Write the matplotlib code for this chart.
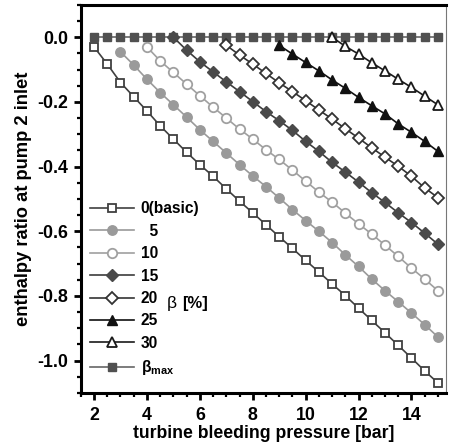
import matplotlib
matplotlib.use('Agg')
import matplotlib.pyplot as plt
from matplotlib.ticker import MultipleLocator

plt.rcParams['font.family'] = ['Liberation Sans', 'DejaVu Sans']
plt.rcParams['font.weight'] = 'bold'
plt.rcParams['axes.unicode_minus'] = False
plt.rcParams['mathtext.fontset'] = 'custom'
plt.rcParams['mathtext.rm'] = 'Liberation Sans'
plt.rcParams['mathtext.it'] = 'Liberation Sans:italic'
plt.rcParams['mathtext.bf'] = 'Liberation Sans:bold'

# turbine bleeding pressure [bar] for each beta series
p_basic = [2, 2.5, 3, 3.5, 4, 4.5, 5, 5.5, 6, 6.5, 7, 7.5, 8, 8.5, 9, 9.5, 10,
           10.5, 11, 11.5, 12, 12.5, 13, 13.5, 14, 14.5, 15]
h_basic = [-0.030, -0.083, -0.140, -0.184, -0.228, -0.274, -0.315, -0.356, -0.394,
           -0.430, -0.469, -0.507, -0.543, -0.580, -0.617, -0.653, -0.690, -0.726,
           -0.763, -0.799, -0.838, -0.876, -0.914, -0.953, -0.992, -1.032, -1.069]

p_5 = [3, 3.5, 4, 4.5, 5, 5.5, 6, 6.5, 7, 7.5, 8, 8.5, 9, 9.5, 10, 10.5, 11,
       11.5, 12, 12.5, 13, 13.5, 14, 14.5, 15]
h_5 = [-0.045, -0.086, -0.130, -0.171, -0.209, -0.247, -0.286, -0.322, -0.358,
       -0.394, -0.429, -0.462, -0.497, -0.533, -0.567, -0.600, -0.635, -0.673,
       -0.709, -0.748, -0.784, -0.818, -0.853, -0.889, -0.927]

p_10 = [4, 4.5, 5, 5.5, 6, 6.5, 7, 7.5, 8, 8.5, 9, 9.5, 10, 10.5, 11, 11.5, 12,
        12.5, 13, 13.5, 14, 14.5, 15]
h_10 = [-0.030, -0.073, -0.109, -0.145, -0.181, -0.216, -0.250, -0.284, -0.315,
        -0.348, -0.378, -0.411, -0.445, -0.479, -0.510, -0.544, -0.577, -0.609,
        -0.643, -0.678, -0.714, -0.748, -0.784]

p_15 = [5, 5.5, 6, 6.5, 7, 7.5, 8, 8.5, 9, 9.5, 10, 10.5, 11, 11.5, 12, 12.5,
        13, 13.5, 14, 14.5, 15]
h_15 = [0.0, -0.040, -0.076, -0.107, -0.138, -0.168, -0.199, -0.230, -0.258,
        -0.288, -0.322, -0.353, -0.387, -0.417, -0.448, -0.481, -0.511, -0.543,
        -0.573, -0.606, -0.640]

p_20 = [7, 7.5, 8, 8.5, 9, 9.5, 10, 10.5, 11, 11.5, 12, 12.5, 13, 13.5, 14, 14.5, 15]
h_20 = [-0.025, -0.055, -0.083, -0.112, -0.141, -0.168, -0.196, -0.225, -0.253,
        -0.283, -0.312, -0.342, -0.371, -0.399, -0.430, -0.466, -0.496]

p_25 = [9, 9.5, 10, 10.5, 11, 11.5, 12, 12.5, 13, 13.5, 14, 14.5, 15]
h_25 = [-0.025, -0.052, -0.078, -0.104, -0.132, -0.158, -0.186, -0.212, -0.237,
        -0.268, -0.294, -0.322, -0.353]

p_30 = [11, 11.5, 12, 12.5, 13, 13.5, 14, 14.5, 15]
h_30 = [0.0, -0.028, -0.052, -0.079, -0.104, -0.130, -0.155, -0.182, -0.209]

p_max = p_basic
h_max = [0.0] * len(p_max)

fig = plt.figure(figsize=(4.49, 4.47), dpi=100)
ax = fig.add_axes([0.180, 0.121, 0.813, 0.868])

ms = 6.0
mew = 1.3
lw = 1.2

ax.plot(p_max, h_max, color='#666666', lw=lw, marker='s', ms=ms, mfc='#505050',
        mec='#505050', zorder=1.5, label=r'$\mathrm{\beta}_{\mathrm{max}}$')
ax.plot(p_basic, h_basic, color='#404040', lw=lw, marker='s', ms=ms, mfc='white',
        mec='#404040', mew=mew, label='0(basic)')
ax.plot(p_5, h_5, color='#9a9a9a', lw=lw, marker='o', ms=6.8, mfc='#9a9a9a',
        mec='#9a9a9a', label='  5')
ax.plot(p_10, h_10, color='#a0a0a0', lw=lw, marker='o', ms=6.8, mfc='white',
        mec='#a0a0a0', mew=mew, label='10')
ax.plot(p_15, h_15, color='#3c3c3c', lw=lw, marker='D', ms=6.0, mfc='#4a4a4a',
        mec='#4a4a4a', label='15')
ax.plot(p_20, h_20, color='#333333', lw=lw, marker='D', ms=6.0, mfc='white',
        mec='#333333', mew=mew, label='20')
ax.plot(p_25, h_25, color='#111111', lw=lw, marker='^', ms=7.5, mfc='#111111',
        mec='#111111', label='25')
ax.plot(p_30, h_30, color='#1a1a1a', lw=lw, marker='^', ms=7.5, mfc='white',
        mec='#1a1a1a', mew=mew, label='30')

ax.set_xlim(1.5, 15.3)
ax.set_ylim(-1.1, 0.1)
ax.xaxis.set_major_locator(MultipleLocator(2))
ax.xaxis.set_minor_locator(MultipleLocator(0.5))
ax.yaxis.set_minor_locator(MultipleLocator(0.05))
ax.set_yticks([0.0, -0.2, -0.4, -0.6, -0.8, -1.0])
ax.set_yticklabels(['0.0', '-0.2', '-0.4', '-0.6', '-0.8', '-1.0'])

for side in ['left', 'bottom', 'top']:
    ax.spines[side].set_linewidth(2.2)
ax.spines['right'].set_linewidth(0.8)
ax.spines['right'].set_color('#777777')

ax.tick_params(which='major', direction='out', length=5, width=2, labelsize=12.8,
               top=False, right=False)
ax.tick_params(which='minor', direction='out', length=3, width=1.6,
               top=False, right=False)
ax.tick_params(axis='x', which='major', pad=5)
ax.tick_params(axis='y', which='major', pad=4)

ax.set_xlabel('turbine bleeding pressure [bar]', fontsize=12.7, fontweight='bold',
              labelpad=1)
ax.set_ylabel('enthalpy ratio at pump 2 inlet', fontsize=13.2, fontweight='bold',
              labelpad=4)

handles, labels = ax.get_legend_handles_labels()
handles = handles[1:] + handles[:1]
labels = labels[1:] + labels[:1]
ax.legend(handles, labels, loc='lower left', bbox_to_anchor=(0.025, 0.04),
          frameon=False, fontsize=11.2, handlelength=2.8, handletextpad=0.45,
          labelspacing=0.48, borderpad=0, borderaxespad=0)

ax.annotate('β', xy=(4.75, -0.822), fontsize=12.5, fontweight='normal',
            va='center', ha='left')
ax.annotate('[%]', xy=(4.75, -0.822), xytext=(11, 0), textcoords='offset points',
            fontsize=12, fontweight='bold', va='center', ha='left')

fig.savefig('out.png', dpi=100)
